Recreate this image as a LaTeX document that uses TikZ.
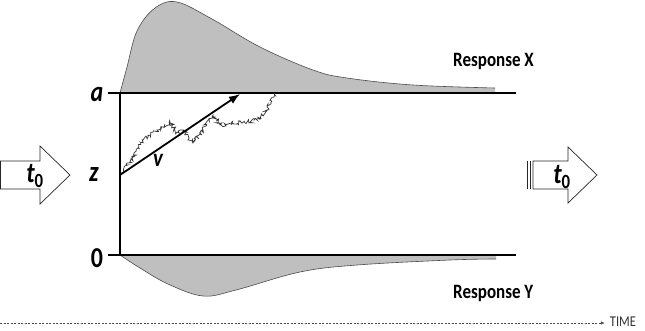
\documentclass[tikz,border=0pt]{standalone}
\usepackage{fontspec}
\setmainfont{Carlito}
\usetikzlibrary{arrows.meta,decorations.pathmorphing}

\newcommand{\tallbox}[1]{\scalebox{1}[1.2]{#1}}

\begin{document}
\begin{tikzpicture}[x=1pt, y=-1pt, >=Latex, every node/.style={inner sep=0pt}]

  \tikzset{
    boundary/.style={line width=1.6pt},
    density/.style={fill=black!25},
    densityedge/.style={draw=black!70, line width=0.6pt},
    blockarrow/.style={draw=black!85, line width=0.7pt, fill=white, line join=miter},
    letter/.style={font=\fontsize{24}{24}\selectfont\bfseries\itshape},
    resp/.style={font=\fontsize{17}{17}\selectfont\bfseries},
  }

  \useasboundingbox (0,0) rectangle (645,330);

  % =========================
  % densities of the two responses
  % =========================
  \fill[density] plot[smooth, tension=0.6] coordinates {
      (120,93) (127,67) (137,31) (155,8) (177,2) (212,19) (260,47)
      (313,70) (347,78) (413,85) (495,88)} -- (495,93) -- cycle;
  \draw[densityedge] plot[smooth, tension=0.6] coordinates {
      (120,93) (127,67) (137,31) (155,8) (177,2) (212,19) (260,47)
      (313,70) (347,78) (413,85) (495,88)};

  \fill[density] plot[smooth, tension=0.6] coordinates {
      (120,255) (140,268) (168,284) (203,296) (236,290) (300,272)
      (357,265) (450,260) (496,259)} -- (496,255) -- cycle;
  \draw[densityedge] plot[smooth, tension=0.6] coordinates {
      (120,255) (140,268) (168,284) (203,296) (236,290) (300,272)
      (357,265) (450,260) (496,259)};

  % =========================
  % boundaries
  % =========================
  \coordinate (upper) at (108,93);
  \coordinate (lower) at (108,255);
  \coordinate (start) at (120,175);
  \draw[boundary] (upper) -- (516,93);
  \draw[boundary] (lower) -- (516,255);
  \draw[boundary] (120,93) -- (120,255);

  \node[letter] (a) at (97,95) {\tallbox{a}};
  \node[letter] (z) at (94,175) {\tallbox{z}};
  \node[letter, font=\fontsize{24}{24}\selectfont\bfseries] (zero) at (97,258) {\tallbox{0}};

  % =========================
  % sample path and drift
  % =========================
  \pgfmathsetseed{11}
  \draw[black!80, line width=0.7pt,
        decorate, decoration={random steps, segment length=1.2pt, amplitude=2.2pt}]
    (start) -- (130,162) -- (143,140) -- (157,130) -- (170,122) -- (177,132)
    -- (183,130) -- (193,143) -- (203,130) -- (213,115) -- (220,125)
    -- (237,123) -- (257,120) -- (267,110) -- (275,93);

  \coordinate (drift) at (240,94);
  \draw[->, line width=1.8pt] (start) -- (drift);
  \node[letter, font=\fontsize{21}{21}\selectfont\bfseries\itshape] (v) at (158,160) {\tallbox{v}};

  % =========================
  % onset arrows
  % =========================
  \draw[blockarrow] (0.5,161) -- (40,161) -- (40,146) -- (70,175)
    -- (40,204) -- (40,189) -- (0.5,189) -- cycle;
  \node[letter] (t0left) at (35,176) {\tallbox{t\textsubscript{\upshape 0}}};

  \draw[blockarrow] (533,161) -- (568,161) -- (568,147) -- (597,175)
    -- (568,203) -- (568,189) -- (533,189) -- cycle;
  \foreach \x in {527,530}
    \draw[black!85, line width=0.7pt] (\x,161) -- (\x,189);
  \node[letter] (t0right) at (562,177) {\tallbox{t\textsubscript{\upshape 0}}};

  % =========================
  % labels and time axis
  % =========================
  \node[resp, anchor=west] (respX) at (453,61) {\tallbox{Response X}};
  \node[resp, anchor=west] (respY) at (453,293) {\tallbox{Response Y}};

  \node[font=\fontsize{12.5}{12.5}\selectfont, text=black!80] (time) at (623,322) {\tallbox{TIME}};
  \coordinate (origin) at (0,323);
  \draw[black!70, line width=0.6pt, dash pattern=on 2pt off 1.5pt]
    (origin) -- ([xshift=-10pt]time.west |- origin);
  \draw[-{Latex[length=4pt,width=3.5pt]}, black!70, line width=0.6pt]
    ([xshift=-10pt]time.west |- origin) -- ([xshift=-5pt]time.west |- origin);

\end{tikzpicture}
\end{document}
